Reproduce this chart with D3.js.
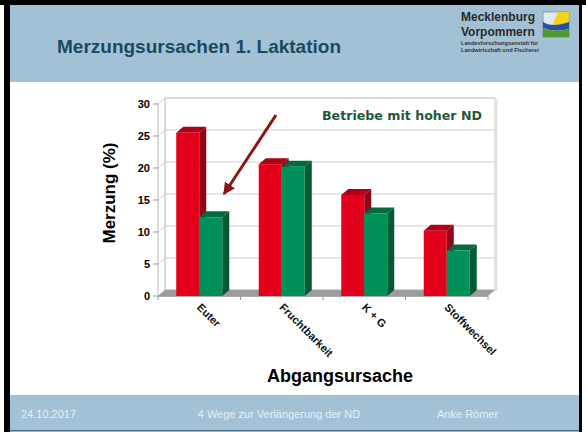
<!DOCTYPE html>
<html>
<head>
<meta charset="utf-8">
<title>Merzungsursachen 1. Laktation</title>
<script src="https://d3js.org/d3.v7.min.js"></script>
<style>
    body { margin: 0; background: #fff; }
    svg { display: block; font-family: Arial, "Liberation Sans", sans-serif; }
</style>
</head>
<body>
<svg width="586" height="432"></svg>
<script>

    // data
    var categories = ["Euter", "Fruchtbarkeit", "K + G", "Stoffwechsel"];
    var seriesNames = ["alle", "hohe ND"];
    var valuesRed = [25.5, 20.6, 15.8, 10.2];
    var valuesGreen = [12.3, 20.2, 12.9, 7.1];
    var yTicks = [0, 5, 10, 15, 20, 25, 30];

    var svg = d3.select("svg");

    // slide frame
    svg.append("rect").attr("x", 0).attr("y", 0).attr("width", 586).attr("height", 5).attr("fill", "#000");
    svg.append("rect").attr("x", 4).attr("y", 0).attr("width", 6).attr("height", 432).attr("fill", "#000");
    svg.append("rect").attr("x", 579).attr("y", 0).attr("width", 3).attr("height", 432).attr("fill", "#000");

    // header
    svg.append("rect").attr("x", 10).attr("y", 5).attr("width", 569).attr("height", 77).attr("fill", "#a3c1d5");
    svg.append("text").attr("x", 57).attr("y", 53)
        .attr("font-size", 19).attr("font-weight", "bold").attr("fill", "#1a4a5e")
        .text("Merzungsursachen 1. Laktation");

    // logo
    var logo = svg.append("g");
    logo.append("text").attr("x", 461).attr("y", 21).attr("font-size", 12).attr("font-weight", "bold")
        .attr("fill", "#2a2a2a").text("Mecklenburg");
    logo.append("text").attr("x", 461).attr("y", 36).attr("font-size", 12).attr("font-weight", "bold")
        .attr("fill", "#2a2a2a").text("Vorpommern");
    logo.append("text").attr("x", 461).attr("y", 45).attr("font-size", 5.6).attr("font-weight", "bold")
        .attr("fill", "#333").text("Landesforschungsanstalt für");
    logo.append("text").attr("x", 461).attr("y", 52).attr("font-size", 5.6).attr("font-weight", "bold")
        .attr("fill", "#333").text("Landwirtschaft und Fischerei");
    logo.append("rect").attr("x", 543).attr("y", 12).attr("width", 26).attr("height", 25).attr("fill", "#dfeaf2").attr("stroke", "#777").attr("stroke-width", 0.6);
    logo.append("path").attr("d", "M558,12 L569,12 L569,24 L552,26 Z").attr("fill", "#f2d21c");
    logo.append("path").attr("d", "M543,22 Q552,28 569,22 L569,29 Q555,33 543,28 Z").attr("fill", "#2a4fa8");
    logo.append("path").attr("d", "M543,28 Q555,33 569,29 L569,37 L543,37 Z").attr("fill", "#4e9a32");

    // footer
    svg.append("rect").attr("x", 10).attr("y", 395).attr("width", 569).attr("height", 35).attr("fill", "#a3c1d5");
    svg.append("rect").attr("x", 10).attr("y", 430).attr("width", 569).attr("height", 1.5).attr("fill", "#4d6b80");
    var foot = svg.append("g").attr("font-size", 11).attr("fill", "#e9eff4");
    foot.append("text").attr("x", 21).attr("y", 418).text("24.10.2017");
    foot.append("text").attr("x", 279).attr("y", 418).attr("text-anchor", "middle").text("4 Wege zur Verlängerung der ND");
    foot.append("text").attr("x", 437).attr("y", 418).text("Anke Römer");

    // chart
    var ddx = 7, ddy = 6;   // 3d depth offset
    var x = d3.scaleBand().domain(categories).range([158, 488]);
    var xs = d3.scaleBand().domain(seriesNames).range([-23, 23]);
    var y = d3.scaleLinear().domain([0, 30]).range([296, 104]);

    var chart = svg.append("g");

    // back wall
    chart.append("rect")
        .attr("x", 158 + ddx).attr("y", y(30) - ddy)
        .attr("width", 488 - 158).attr("height", y(0) - y(30))
        .attr("fill", "#fff").attr("stroke", "#c8c8c8");
    chart.append("line").attr("x1", 496.5).attr("x2", 496.5).attr("y1", y(30) - ddy + 1).attr("y2", y(0) - ddy + 1)
        .attr("stroke", "#e4e4e4").attr("stroke-width", 2);

    // gridlines with side wall segment
    var grid = chart.append("g").attr("stroke", "#cfcfcf").attr("fill", "none");
    yTicks.forEach(function(t) {
        grid.append("path")
            .attr("d", "M158," + y(t) + " L" + (158 + ddx) + "," + (y(t) - ddy) + " L" + (488 + ddx) + "," + (y(t) - ddy));
    });
    grid.append("line").attr("x1", 158 + ddx).attr("x2", 158 + ddx).attr("y1", y(30) - ddy).attr("y2", y(0) - ddy);

    // floor
    chart.append("path")
        .attr("d", "M158," + y(0) + " L" + (158 + ddx) + "," + (y(0) - ddy) + " L" + (488 + ddx) + "," + (y(0) - ddy) + " L488," + y(0) + " Z")
        .attr("fill", "#9c9c9c");

    // y axis
    chart.append("line").attr("x1", 158).attr("x2", 158).attr("y1", y(30)).attr("y2", y(0)).attr("stroke", "#bbb");
    var yAxis = chart.append("g");
    yTicks.forEach(function(t) {
        yAxis.append("line").attr("x1", 153).attr("x2", 158).attr("y1", y(t)).attr("y2", y(t)).attr("stroke", "#999");
        yAxis.append("text").attr("x", 150).attr("y", y(t)).attr("dy", "0.36em")
            .attr("text-anchor", "end").attr("font-size", 11).attr("font-weight", "bold").text(t);
    });

    // x axis
    chart.append("line").attr("x1", 158).attr("x2", 488).attr("y1", y(0) + 0.5).attr("y2", y(0) + 0.5).attr("stroke", "#aaa");
    categories.concat([null]).forEach(function(c) {
        var xx = c ? x(c) : 488;
        chart.append("line").attr("x1", xx).attr("x2", xx).attr("y1", y(0)).attr("y2", y(0) + 4).attr("stroke", "#999");
    });
    categories.forEach(function(c) {
        chart.append("text")
            .attr("transform", "translate(" + (x(c) + x.bandwidth() / 2 - 3) + "," + (y(0) + 12) + ") rotate(45)")
            .attr("font-size", 11).attr("font-weight", "bold").attr("fill", "#111")
            .text(c);
    });

    // bars
    function bar3d(g, cx, w, v, front, dark, top) {
        var x0 = cx, x1 = cx + w, y0 = y(0), y1 = y(v);
        g.append("path")
            .attr("d", "M" + x1 + "," + y0 + " L" + (x1 + ddx) + "," + (y0 - ddy) + " L" + (x1 + ddx) + "," + (y1 - ddy) + " L" + x1 + "," + y1 + " Z")
            .attr("fill", dark);
        g.append("path")
            .attr("d", "M" + x0 + "," + y1 + " L" + (x0 + ddx) + "," + (y1 - ddy) + " L" + (x1 + ddx) + "," + (y1 - ddy) + " L" + x1 + "," + y1 + " Z")
            .attr("fill", top);
        g.append("rect").attr("x", x0).attr("y", y1).attr("width", w).attr("height", y0 - y1).attr("fill", front);
    }

    var bars = chart.append("g");
    categories.forEach(function(c, i) {
        var cx = x(c) + x.bandwidth() / 2;
        bar3d(bars, cx + xs("alle"), xs.bandwidth(), valuesRed[i], "#e3001b", "#8f0716", "#ad0019");
        bar3d(bars, cx + xs("hohe ND"), xs.bandwidth(), valuesGreen[i], "#00915a", "#005a34", "#006b3f");
    });

    // axis titles
    svg.append("text")
        .attr("transform", "translate(115,193) rotate(-90)")
        .attr("text-anchor", "middle").attr("font-size", 17).attr("font-weight", "bold")
        .text("Merzung (%)");
    svg.append("text").attr("x", 340).attr("y", 382).attr("text-anchor", "middle")
        .attr("font-size", 18).attr("font-weight", "bold").text("Abgangsursache");

    // annotation
    svg.append("text").attr("x", 322).attr("y", 120)
        .attr("font-family", "'Comic Sans MS', 'DejaVu Sans', sans-serif")
        .attr("font-size", 13).attr("font-weight", "bold").attr("fill", "#1d5a3a")
        .attr("textLength", 160).attr("lengthAdjust", "spacingAndGlyphs")
        .text("Betriebe mit hoher ND");

    svg.append("defs").append("marker")
        .attr("id", "arrow").attr("viewBox", "0 0 10 10").attr("refX", 9).attr("refY", 5)
        .attr("markerWidth", 4).attr("markerHeight", 4).attr("orient", "auto")
        .append("path").attr("d", "M0,0 L10,5 L0,10 Z").attr("fill", "#8e1414");
    svg.append("line")
        .attr("x1", 276).attr("y1", 115).attr("x2", 224).attr("y2", 194)
        .attr("stroke", "#8e1414").attr("stroke-width", 3)
        .attr("marker-end", "url(#arrow)");

</script>
</body>
</html>
